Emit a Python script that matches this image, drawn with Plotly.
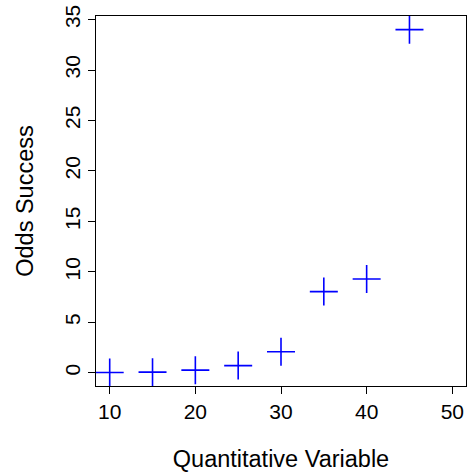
import plotly.graph_objects as go

x_values = [10, 15, 20, 25, 30, 35, 40, 45]
odds_success = [0.03, 0.07, 0.27, 0.72, 2.1, 8.05, 9.3, 34.0]
x_ticks = [10, 20, 30, 40, 50]
y_ticks = [0, 5, 10, 15, 20, 25, 30, 35]

FONT = "Liberation Sans, Arial, Helvetica, sans-serif"

fig = go.Figure()
fig.add_trace(go.Scatter(
    x=x_values, y=odds_success, mode="markers",
    marker=dict(symbol="cross-thin-open", size=20, color="#0000FF",
                line=dict(color="#0000FF", width=1.6)),
    showlegend=False,
))

axis_common = dict(
    showline=True, mirror=True, linecolor="black", linewidth=1,
    ticks="outside", ticklen=7, tickcolor="black", tickwidth=1,
    showgrid=False, zeroline=False,
    tickfont=dict(family=FONT, size=21, color="black"),
)

fig.update_xaxes(
    range=[8.4, 51.6], tickvals=x_ticks, ticktext=[str(v) for v in x_ticks],
    title=dict(text="Quantitative Variable", font=dict(family=FONT, size=23.5, color="black"), standoff=28),
    **axis_common,
)
fig.update_yaxes(
    range=[-1.3, 35.35], tickvals=y_ticks, ticktext=[str(v) for v in y_ticks],
    tickangle=-90,
    title=dict(text="Odds Success", font=dict(family=FONT, size=23.5, color="black"), standoff=20),
    **axis_common,
)

fig.update_layout(
    width=470, height=476,
    margin=dict(l=96, r=4, t=16, b=90, autoexpand=False),
    plot_bgcolor="white", paper_bgcolor="white",
    font=dict(family=FONT, size=21, color="black"),
)

fig.write_html(
    "out.html",
    config={"displayModeBar": False, "staticPlot": True},
    post_script="document.body.style.margin='0';document.body.style.overflow='hidden';",
)
